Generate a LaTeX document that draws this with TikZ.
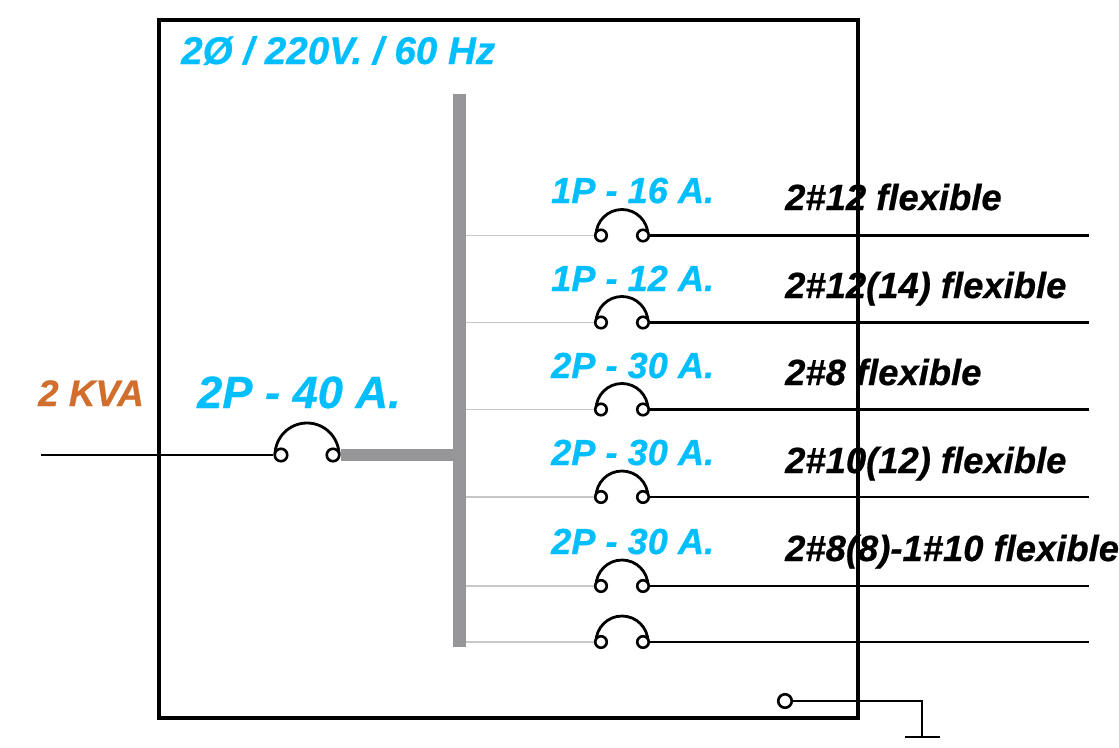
\documentclass[tikz,border=0pt]{standalone}
\usepackage{fontspec}
\setmainfont[BoldItalicFeatures={FakeBold=0.6}]{Liberation Sans}
\definecolor{cblue}{RGB}{0,190,255}
\definecolor{corange}{RGB}{210,110,45}
\definecolor{cgray}{RGB}{150,150,153}
\definecolor{clight}{RGB}{200,200,200}
\tikzset{
  term/.style={circle,draw=black,line width=2.6pt,fill=white,minimum size=11.5pt,inner sep=0pt},
  mainterm/.style={circle,draw=black,line width=2.6pt,fill=white,minimum size=12.5pt,inner sep=0pt},
  lbl/.style={inner sep=0pt,anchor=base west,font=\bfseries\itshape},
  ampsm/.style={lbl,text=cblue,font=\bfseries\itshape\fontsize{36.2}{36}\selectfont},
  cable/.style={lbl,text=black,font=\bfseries\itshape\fontsize{36.4}{36}\selectfont},
  wire/.style={draw=black,line width=2.6pt},
  feed/.style={draw=clight,line width=1.5pt},
  arcline/.style={draw=black,line width=2.8pt},
  busbar/.style={draw=none,fill=cgray,inner sep=0pt,minimum width=13pt,minimum height=553pt}
}
\begin{document}
\begin{tikzpicture}[x=1pt,y=-1pt]
\useasboundingbox (0,0) rectangle (1119,747);
\fill[white] (0,0) rectangle (1119,747);
\node[busbar] (bus) at (459.5,370.5) {};
% main
\coordinate (infeed) at (41,455);
\draw[arcline] (275,455) arc[start angle=180,end angle=360,radius=32];
\node[mainterm] (mL) at (281,455) {};
\node[mainterm] (mR) at (333,455) {};
\draw[wire] (infeed) -- (mL);
\draw[draw=cgray,line width=12pt] (mR.east) -- (bus.west |- mR.east);
% branches
\foreach \n/\y in {a/235.5,b/322.5,c/409.5,d/497,e/586,f/642}{
  \draw[arcline] (596,\y) arc[start angle=180,end angle=360,radius=26];
  \node[term] (\n L) at (601,\y) {};
  \node[term] (\n R) at (643,\y) {};
  \coordinate (\n E) at (1089,\y);
  \draw[feed] (bus.east |- \n L) -- (\n L);
  \draw[wire] (\n R) -- (\n E);
}
% frame
\draw[line width=3.6pt,line join=miter] (159,20) rectangle (858,718);
% ground
\node[mainterm,minimum size=13.5pt] (g) at (785,701) {};
\coordinate (gc) at (922,701);
\coordinate (gb) at (922,737);
\coordinate (gl) at (905,737);
\coordinate (gr) at (940,737);
\draw[wire] (g) -- (gc) -- (gb);
\draw[wire] (gl) -- (gr);
% labels
\node[lbl,text=cblue,font=\bfseries\itshape\fontsize{38.6}{38}\selectfont] (title) at (181,64) {2Ø / 220V. / 60 Hz};
\node[lbl,text=corange,font=\bfseries\itshape\fontsize{36.8}{36}\selectfont] (kva) at (38,406) {2 KVA};
\node[lbl,text=cblue,font=\bfseries\itshape\fontsize{45.2}{45}\selectfont] (main) at (197,408) {2P - 40 A.};
\node[ampsm] (la) at (551,203) {1P - 16 A.};
\node[ampsm] (lb) at (551,291) {1P - 12 A.};
\node[ampsm] (lc) at (551,378) {2P - 30 A.};
\node[ampsm] (ld) at (551,465) {2P - 30 A.};
\node[ampsm] (le) at (551,554) {2P - 30 A.};
\node[cable] (ca) at (785,210) {2\#12 flexible};
\node[cable] (cb) at (785,298) {2\#12(14) flexible};
\node[cable] (cc) at (785,385) {2\#8 flexible};
\node[cable] (cd) at (785,473) {2\#10(12) flexible};
\node[cable] (ce) at (785,561) {2\#8(8)-1\#10 flexible};
\end{tikzpicture}
\end{document}
